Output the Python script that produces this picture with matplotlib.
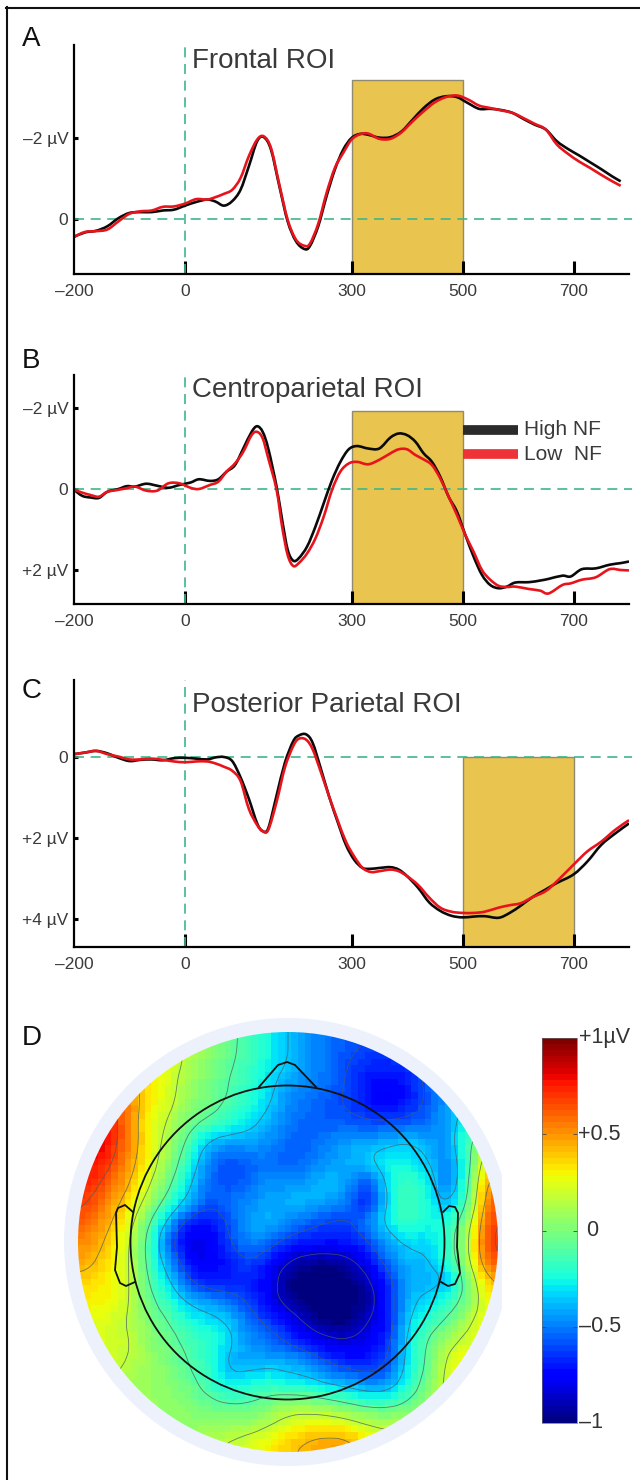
import numpy as np
import matplotlib
matplotlib.use('Agg')
import matplotlib.pyplot as plt
from matplotlib.lines import Line2D
from matplotlib.patches import Circle, PathPatch, Rectangle
from matplotlib.path import Path
from matplotlib.cm import ScalarMappable
from matplotlib.colors import Normalize

plt.rcParams['font.family'] = ['Liberation Sans', 'DejaVu Sans']

W, H = 640, 1480

t_a = [-200, -180, -160, -140, -120, -100, -80, -60, -40, -20, 0, 20, 40, 55, 70, 85, 100, 115, 130, 142, 155, 170,
       185, 200, 215, 225, 240, 255, 270, 285, 300, 315, 330, 350, 370, 390, 410, 430, 450, 470, 490, 510, 530, 550,
       570, 590, 610, 630, 650, 670, 690, 710, 730, 750, 770, 785]
high_a = [.44, .33, .29, .18, -.02, -.15, -.17, -.17, -.21, -.23, -.33, -.42, -.48, -.43, -.33, -.44, -.72, -1.30,
          -1.92, -2.02, -1.71, -.81, .06, .55, .74, .67, .18, -.56, -1.22, -1.71, -2.0, -2.10, -2.08, -2.01, -2.02,
          -2.16, -2.45, -2.74, -2.95, -3.03, -3.01, -2.86, -2.72, -2.72, -2.69, -2.62, -2.47, -2.33, -2.21, -1.92,
          -1.73, -1.57, -1.40, -1.23, -1.05, -.93]
low_a = [.44, .32, .30, .26, .06, -.13, -.19, -.21, -.30, -.31, -.38, -.49, -.48, -.54, -.62, -.72, -1.01, -1.55,
         -1.96, -2.04, -1.75, -.85, .02, .51, .66, .61, .12, -.64, -1.26, -1.63, -1.96, -2.09, -2.11, -1.98, -1.98,
         -2.14, -2.41, -2.66, -2.88, -3.01, -3.05, -2.95, -2.80, -2.74, -2.68, -2.62, -2.49, -2.35, -2.21, -1.84,
         -1.61, -1.42, -1.26, -1.09, -.93, -.82]

t_b = [-200, -185, -170, -155, -140, -120, -105, -90, -70, -50, -30, -10, 10, 25, 45, 60, 75, 90, 105, 120, 130, 140,
       150, 165, 175, 185, 195, 205, 220, 235, 250, 265, 280, 295, 310, 330, 350, 370, 385, 400, 415, 430, 445, 460,
       475, 490, 505, 520, 535, 550, 565, 580, 595, 620, 640, 655, 680, 695, 715, 740, 765, 785, 800]
high_b = [.02, .17, .21, .22, .07, 0, -.07, -.06, -.13, -.08, -.03, -.10, -.16, -.24, -.20, -.24, -.43, -.59, -1.0,
          -1.41, -1.55, -1.41, -1.0, -.06, .76, 1.50, 1.77, 1.71, 1.42, .93, .35, -.22, -.67, -.98, -1.06, -1.0,
          -1.0, -1.27, -1.37, -1.33, -1.17, -.88, -.67, -.30, .19, .56, 1.13, 1.67, 2.12, 2.37, 2.45, 2.41, 2.31,
          2.30, 2.26, 2.22, 2.14, 2.16, 1.98, 1.96, 1.87, 1.83, 1.79]
low_b = [.02, .09, .15, .19, .07, .02, -.02, -.06, .04, .04, -.14, -.14, -.03, 0, -.10, -.18, -.43, -.63, -.92,
         -1.33, -1.41, -1.25, -.76, .02, .93, 1.63, 1.90, 1.83, 1.59, 1.22, .68, .02, -.43, -.63, -.67, -.61, -.72,
         -.88, -.98, -.98, -.84, -.73, -.59, -.26, .19, .64, 1.13, 1.55, 2.0, 2.24, 2.39, 2.42, 2.41, 2.47, 2.51,
         2.58, 2.37, 2.33, 2.24, 2.18, 1.98, 2.0, 2.01]

t_c = [-200, -180, -160, -140, -120, -100, -80, -60, -40, -20, 0, 20, 40, 55, 70, 85, 100, 115, 130, 140, 150, 165,
       180, 195, 205, 218, 230, 245, 260, 275, 290, 305, 320, 335, 350, 370, 385, 400, 420, 440, 460, 480, 500, 520,
       540, 565, 585, 605, 625, 650, 670, 700, 725, 750, 775, 800]
high_c = [-.07, -.11, -.15, -.09, .02, .10, .07, .06, .08, .03, .02, .04, .06, .01, 0, .10, .50, 1.03, 1.64, 1.83,
          1.76, .95, .14, -.39, -.53, -.56, -.35, .30, .99, 1.60, 2.17, 2.54, 2.74, 2.76, 2.74, 2.72, 2.78, 2.94,
          3.23, 3.59, 3.80, 3.92, 3.96, 3.94, 3.93, 3.97, 3.85, 3.67, 3.47, 3.27, 3.11, 2.90, 2.58, 2.17, 1.89, 1.64]
low_c = [-.07, -.11, -.15, -.07, -.01, .06, .06, .04, .07, .11, .13, .11, .11, .16, .24, .34, .59, 1.28, 1.68, 1.83,
         1.80, 1.11, .26, -.27, -.45, -.43, -.19, .38, .99, 1.56, 2.09, 2.46, 2.74, 2.84, 2.82, 2.78, 2.82, 2.94,
         3.16, 3.47, 3.72, 3.82, 3.85, 3.85, 3.82, 3.72, 3.66, 3.61, 3.47, 3.31, 3.07, 2.66, 2.33, 2.09, 1.80, 1.56]

x_ticks_ms = [-200, 0, 300, 500, 700]
x_tick_labels = ['\u2013200', '0', '300', '500', '700']

# topography read on a 21 x 21 grid over the disc, in microvolts
topo_rows = [
    [.30, .30, .30, .30, .20, .15, .05, -.05, -.15, -.25, -.35, -.45, -.52, -.56, -.60, -.60, -.55, -.50, -.40, -.30, -.20],
    [.40, .40, .40, .35, .25, .12, .03, -.07, -.15, -.25, -.35, -.45, -.52, -.60, -.66, -.66, -.62, -.55, -.45, -.30, -.20],
    [.55, .50, .45, .35, .22, .08, 0, -.10, -.18, -.30, -.42, -.47, -.52, -.62, -.72, -.75, -.70, -.55, -.42, -.30, -.20],
    [.75, .70, .55, .32, .22, .05, -.02, -.10, -.20, -.32, -.47, -.52, -.57, -.62, -.72, -.78, -.70, -.58, -.42, -.30, -.20],
    [.85, .78, .55, .28, .15, -.02, -.10, -.20, -.28, -.40, -.50, -.55, -.57, -.57, -.60, -.60, -.58, -.52, -.42, -.25, -.10],
    [.85, .78, .55, .30, .10, -.12, -.38, -.42, -.42, -.45, -.55, -.55, -.48, -.42, -.42, -.38, -.33, -.42, -.45, -.10, .10],
    [.80, .72, .50, .28, .05, -.20, -.48, -.60, -.55, -.52, -.57, -.52, -.45, -.40, -.33, -.25, -.26, -.35, -.50, -.15, .35],
    [.74, .62, .45, .20, -.03, -.30, -.52, -.60, -.55, -.45, -.47, -.42, -.35, -.43, -.60, -.28, -.14, -.26, -.55, -.10, .50],
    [.68, .52, .35, .10, -.15, -.38, -.58, -.52, -.47, -.42, -.38, -.38, -.42, -.52, -.72, -.30, -.12, -.24, -.42, -.08, .60],
    [.60, .45, .25, -.05, -.38, -.68, -.72, -.60, -.42, -.38, -.47, -.55, -.62, -.62, -.47, -.27, -.15, -.24, -.22, .08, .65],
    [.52, .38, .20, -.12, -.55, -.80, -.80, -.62, -.47, -.52, -.65, -.70, -.70, -.70, -.60, -.42, -.32, -.32, -.18, .15, .70],
    [.45, .33, .20, -.12, -.42, -.72, -.80, -.70, -.60, -.70, -.88, -.95, -.97, -.92, -.76, -.52, -.38, -.38, -.20, .12, .62],
    [.35, .30, .20, -.08, -.30, -.58, -.70, -.68, -.68, -.76, -.98, -1.0, -1.0, -1.0, -.90, -.66, -.40, -.40, -.38, 0, .40],
    [.30, .30, .18, -.03, -.18, -.35, -.42, -.52, -.60, -.76, -.92, -1.0, -1.0, -1.0, -.95, -.68, -.38, -.30, -.18, 0, .30],
    [.25, .22, .15, .02, -.08, -.22, -.28, -.33, -.52, -.62, -.72, -.90, -1.0, -.98, -.85, -.70, -.33, -.18, -.06, .14, .30],
    [.25, .22, .18, .05, -.03, -.13, -.18, -.30, -.45, -.52, -.62, -.70, -.80, -.83, -.76, -.65, -.28, -.06, .12, .22, .30],
    [.20, .20, .15, .07, 0, -.10, -.18, -.40, -.42, -.40, -.40, -.47, -.60, -.68, -.70, -.60, -.28, -.06, .22, .32, .30],
    [.20, .15, .10, .07, .04, -.05, -.16, -.30, -.26, -.20, -.28, -.30, -.38, -.42, -.50, -.48, -.23, 0, .22, .32, .30],
    [.15, .12, .10, .07, .05, .02, -.06, -.10, -.10, -.04, .04, .02, -.03, -.10, -.16, -.16, -.08, .07, .22, .30, .30],
    [.10, .10, .10, .07, .05, .05, .05, .05, .05, .12, .22, .27, .27, .22, .14, .12, .12, .17, .22, .30, .30],
    [.10, .10, .10, .07, .07, .07, .12, .17, .22, .30, .37, .44, .47, .47, .32, .22, .17, .17, .22, .30, .30],
]
contour_levels = [-.85, -.6, -.35, -.1, .15, .4, .65]

# head outline, figure pixels
nose_x = [259, 278, 287, 295, 316]
nose_y = [1087, 1065, 1062, 1065, 1087]
ear_l_x = [133, 125, 118, 116, 117, 115, 120, 126, 135]
ear_l_y = [1212, 1205, 1208, 1213, 1247, 1270, 1283, 1286, 1282]
ear_r_x = [443, 449, 455, 458, 457, 460, 455, 448, 441]
ear_r_y = [1212, 1206, 1207, 1213, 1247, 1273, 1284, 1286, 1282]

GREEN = '#3fb68b'
GOLD = '#e9c44f'
BLACK = '#0a0a0a'
RED = '#e8141c'
TEXT = '#3a3a3a'


def px_axes(left, top, right, bottom):
    return fig.add_axes([left / W, 1 - bottom / H, (right - left) / W, (bottom - top) / H])


def blur(values, width, passes):
    kernel = np.ones(width) / width
    pad = width // 2
    for _ in range(passes):
        for axis in (0, 1):
            values = np.apply_along_axis(
                lambda r: np.convolve(np.pad(r, pad, mode='edge'), kernel, mode='valid'), axis, values)
    return values


def curve_through(ax, times, values, color, zorder):
    pts = np.column_stack([times, values]).astype(float)
    padded = np.vstack([pts[0], pts, pts[-1]])
    verts = [pts[0]]
    for i in range(1, len(padded) - 2):
        verts.append(padded[i] + (padded[i + 1] - padded[i - 1]) / 6)
        verts.append(padded[i + 1] - (padded[i + 2] - padded[i]) / 6)
        verts.append(padded[i + 1])
    codes = [Path.MOVETO] + [Path.CURVE4] * (len(verts) - 1)
    ax.add_patch(PathPatch(Path(verts, codes), facecolor='none', edgecolor=color, lw=1.9, zorder=zorder,
                           joinstyle='round', capstyle='butt'))


def draw_panel(top, bottom, y_zero, times, high, low, title, title_y, y_ticks, y_labels, span, span_top):
    ax = px_axes(74, top, 629, bottom)
    ax.set_xlim(-200, 800)
    ax.set_ylim((bottom - y_zero) / 40.5, (top - y_zero) / 40.5)
    ax.patch.set_alpha(0)

    y_low = ax.get_ylim()[0]
    ax.add_patch(Rectangle((span[0], span_top), span[1] - span[0], y_low - span_top, facecolor=GOLD,
                           edgecolor='#8f8a70', linewidth=1, zorder=1))
    ax.plot([-200, 805], [0, 0], color=GREEN, lw=1.2, dashes=(6, 4), clip_on=False, zorder=2)
    ax.axvline(0, color=GREEN, lw=1.2, dashes=(6, 4), zorder=2)
    curve_through(ax, times, high, BLACK, 3)
    curve_through(ax, times, low, RED, 4)

    for side in ['top', 'right']:
        ax.spines[side].set_visible(False)
    for side in ['left', 'bottom']:
        ax.spines[side].set_linewidth(1.6)
        ax.spines[side].set_zorder(5)

    ax.set_xticks(x_ticks_ms)
    ax.set_xticklabels(x_tick_labels, fontsize=12.5, color=TEXT)
    ax.tick_params(axis='x', direction='in', length=9.5, width=2.2, pad=7)
    ax.xaxis.get_major_ticks()[0].tick1line.set_visible(False)

    ax.set_yticks(y_ticks)
    ax.set_yticklabels(y_labels, fontsize=12.5, color=TEXT)
    ax.tick_params(axis='y', direction='in', length=3, width=2.2, pad=4)

    ax.text(12, title_y, title, fontsize=20, color=TEXT, ha='left', va='baseline')
    return ax


fig = plt.figure(figsize=(W / 100, H / 100), dpi=100, facecolor='white')

fig.add_artist(Line2D([6.5 / W, 6.5 / W], [0, 1 - 7 / H], color='#111111', lw=1.5))
fig.add_artist(Line2D([6 / W, 1], [1 - 7.5 / H, 1 - 7.5 / H], color='#111111', lw=1.5))

draw_panel(45, 274, 219, t_a, high_a, low_a, 'Frontal ROI', -3.72, [-2, 0], ['\u20132 \u00b5V', '0'], (300, 500), -3.43)
ax_b = draw_panel(375, 604, 489, t_b, high_b, low_b, 'Centroparietal ROI', -2.27,
                  [-2, 0, 2], ['\u20132 \u00b5V', '0', '+2 \u00b5V'], (300, 500), -1.93)
draw_panel(680, 947, 757, t_c, high_c, low_c, 'Posterior Parietal ROI', -1.11, [0, 2, 4],
           ['0', '+2 \u00b5V', '+4 \u00b5V'], (500, 700), 0)

ax_b.plot([501, 600], [-1.46, -1.46], color='#2b2b2b', lw=7, solid_capstyle='butt', zorder=3)
ax_b.plot([501, 600], [-.86, -.86], color='#ee3338', lw=7, solid_capstyle='butt', zorder=3)
ax_b.text(611, -1.46, 'High NF', fontsize=15, color=TEXT, va='center')
ax_b.text(611, -.86, 'Low  NF', fontsize=15, color=TEXT, va='center')

for letter, x, y in [('A', 22, 46), ('B', 22, 368), ('C', 22, 698), ('D', 22, 1045)]:
    fig.text(x / W, 1 - y / H, letter, fontsize=20, color='#111111', ha='left', va='baseline')

# D: topography
ax_t = px_axes(50, 1010, 502, 1475)
ax_t.set_xlim(50, 502)
ax_t.set_ylim(1475, 1010)
ax_t.axis('off')
cx, cy, disc_r, head_r = 288, 1242, 210, 157

ax_t.add_patch(Circle((cx, cy), 224, facecolor='#ecf1fb', edgecolor='none', zorder=0))

grid = np.array(topo_rows)
fine = blur(np.kron(grid, np.ones((3, 3))), 3, 2)
extent = (cx - disc_r, cx + disc_r, cy + disc_r, cy - disc_r)
disc = Circle((cx, cy), disc_r, transform=ax_t.transData)
im = ax_t.imshow(fine, cmap=plt.get_cmap('jet', 64), vmin=-1, vmax=1, extent=extent, interpolation='nearest',
                 aspect='auto', zorder=1)
im.set_clip_path(disc)

smooth = blur(np.kron(grid, np.ones((6, 6))), 7, 2)
xs = np.linspace(cx - disc_r, cx + disc_r, smooth.shape[1])
ys = np.linspace(cy - disc_r, cy + disc_r, smooth.shape[0])
cs = ax_t.contour(xs, ys, smooth, levels=contour_levels, colors='#4a5a60', linewidths=0.6, linestyles='solid',
                  alpha=0.75, zorder=2)
cs.set_clip_path(Circle((cx, cy), disc_r, transform=ax_t.transData))

ax_t.add_patch(Circle((cx - 0.5, cy + 0.5), head_r, facecolor='none', edgecolor='#111111', lw=1.3, zorder=3))
for xv, yv in [(nose_x, nose_y), (ear_l_x, ear_l_y), (ear_r_x, ear_r_y)]:
    ax_t.plot(xv, yv, color='#111111', lw=1.3, zorder=3)

# colour bar
ax_c = px_axes(542, 1038, 577, 1423)
bar = fig.colorbar(ScalarMappable(Normalize(-1, 1), plt.get_cmap('jet', 64)), cax=ax_c, ticks=[-.5, 0, .5])
bar.outline.set_linewidth(0.5)
bar.outline.set_edgecolor('#666666')
bar.set_ticklabels([])
ax_c.tick_params(axis='y', direction='in', length=3, width=0.6, color='#444444', left=True, right=True)
for value, label, x in [(1, '+1\u00b5V', 579), (.5, '+0.5', 578), (0, '0', 586), (-.5, '\u20130.5', 579), (-1, '\u20131', 579)]:
    ax_c.text((x - 542) / 35, (value + 1) / 2, label, fontsize=15.5, color='#333333', ha='left', va='center',
              transform=ax_c.transAxes, clip_on=False)

fig.savefig('out.png', dpi=100)
